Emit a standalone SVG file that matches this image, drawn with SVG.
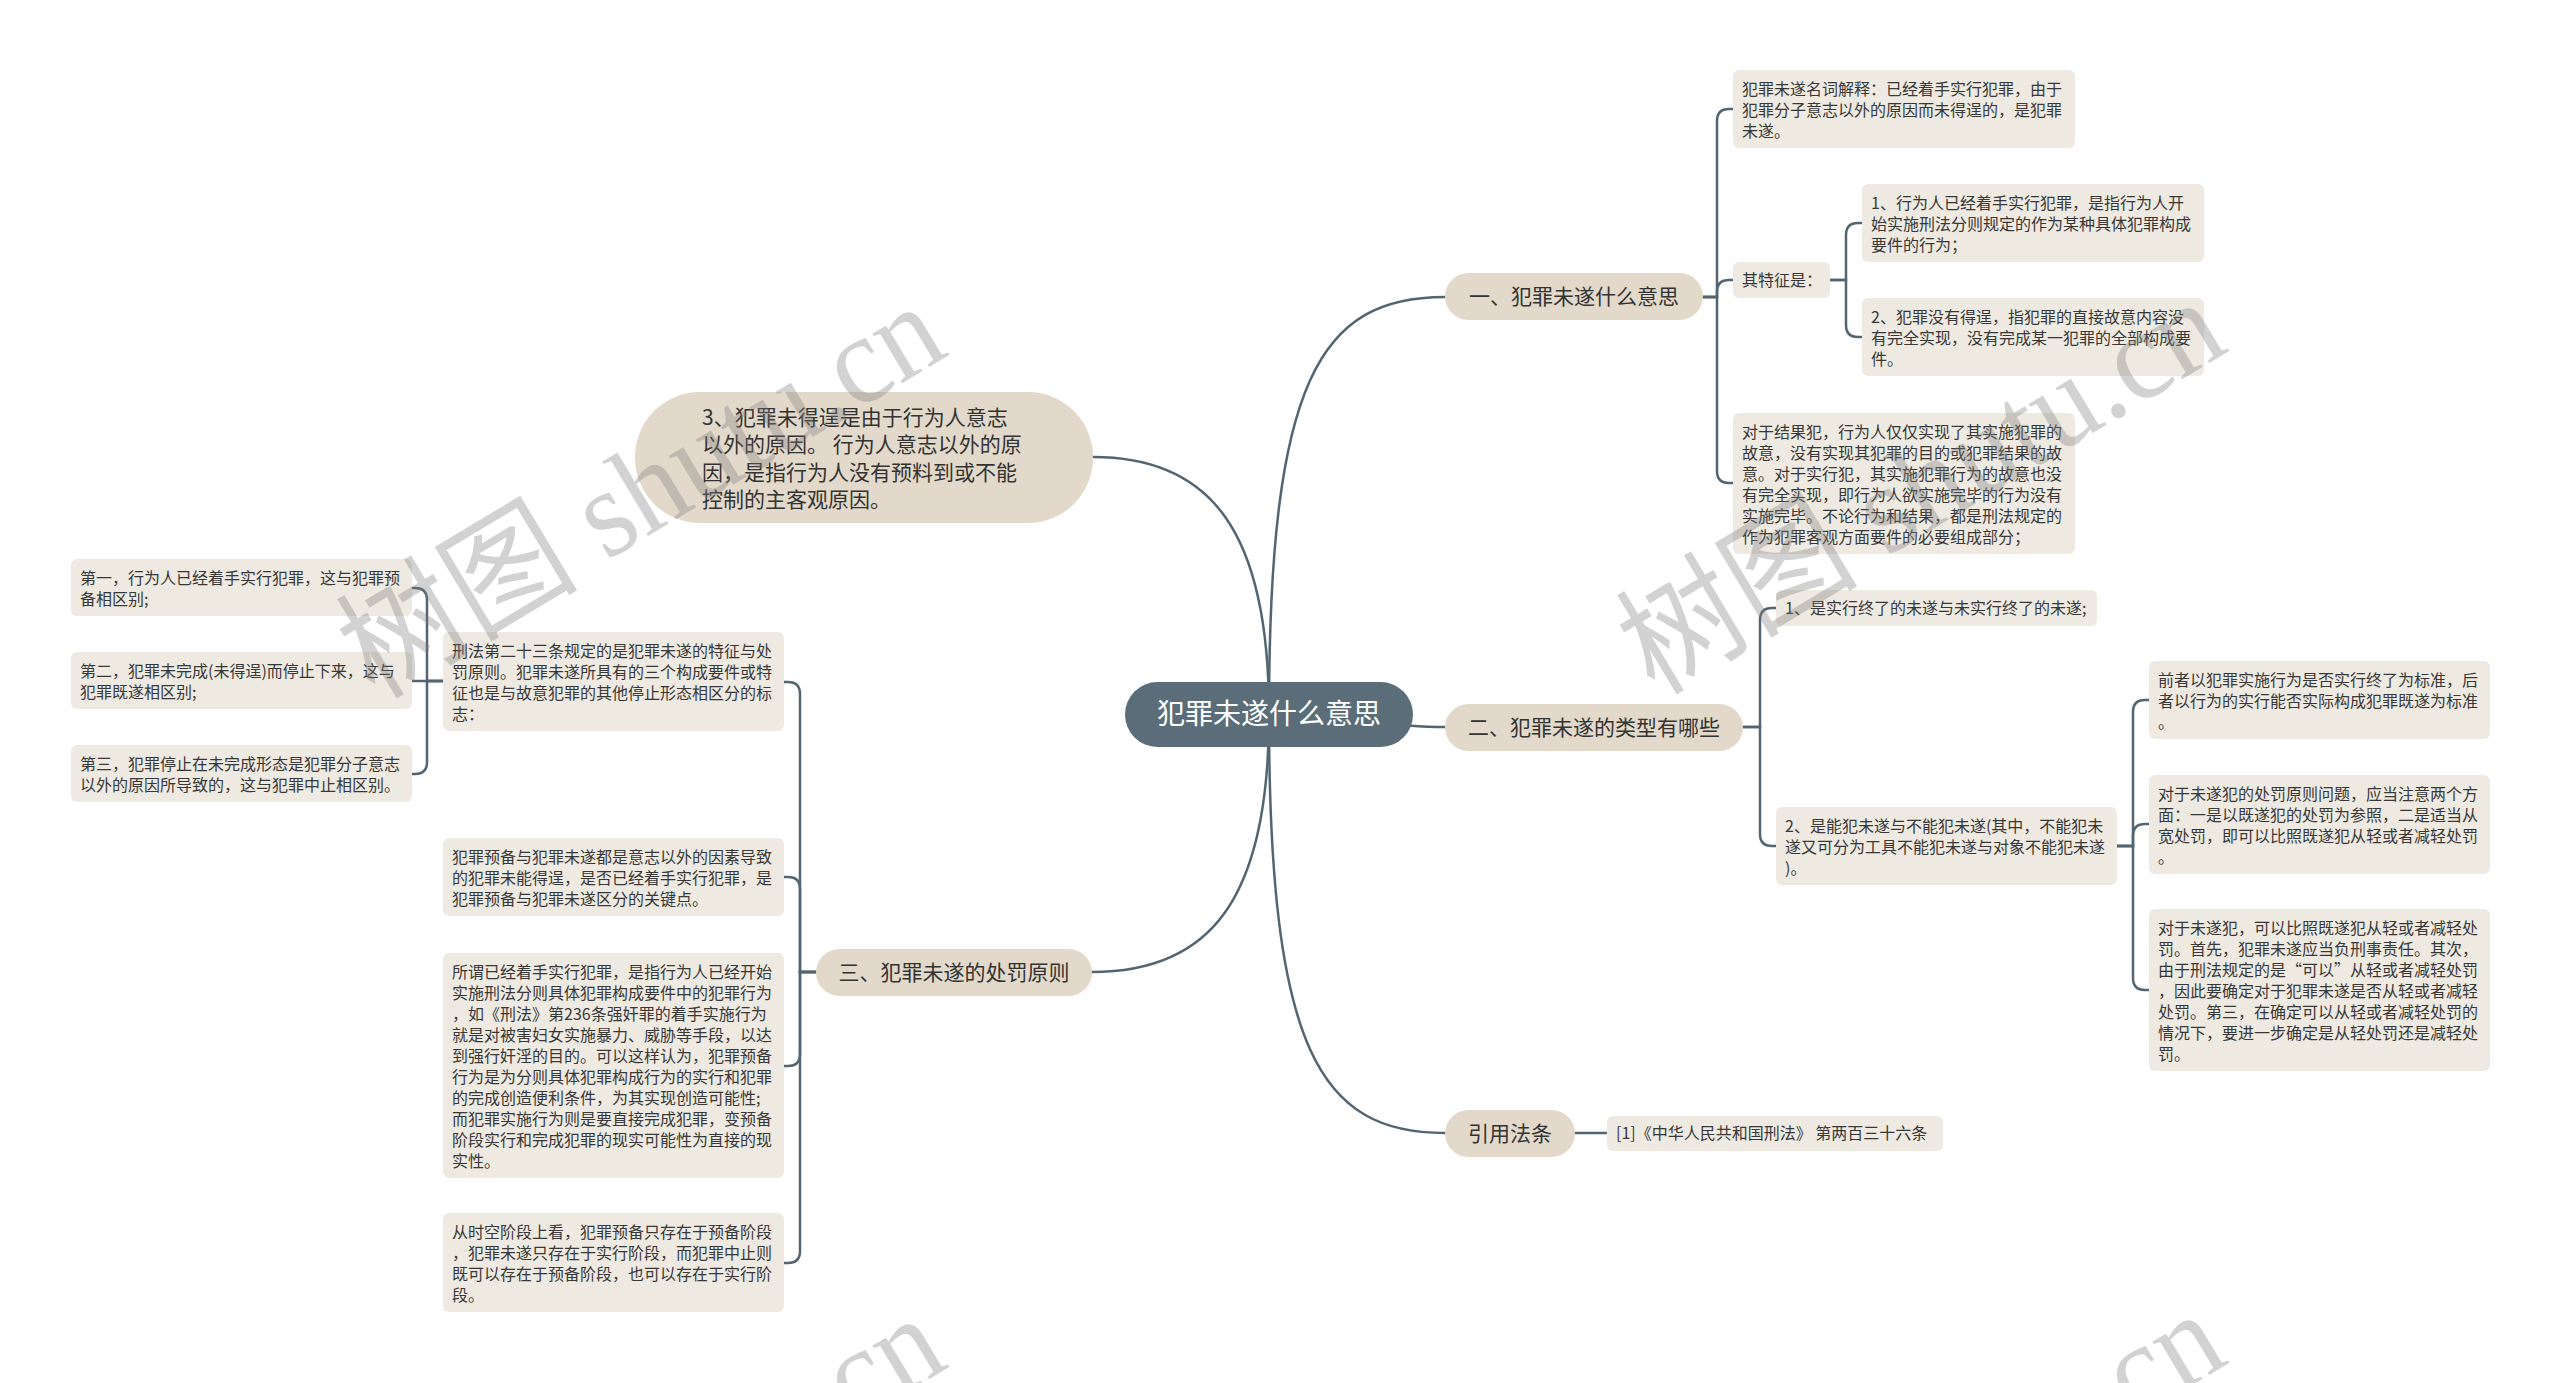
<svg xmlns="http://www.w3.org/2000/svg" width="2560" height="1383" viewBox="0 0 2560 1383">
<style>
.bg{fill:#ffffff}
.root{fill:#5a6d79}
.l1{fill:#e2d9ca}
.bx{fill:#eeeae2}
.rt{font-family:"Noto Sans CJK SC","Noto Sans",sans-serif;font-size:28px;fill:#ffffff;text-anchor:middle}
.t1{font-family:"Noto Sans CJK SC","Noto Sans",sans-serif;font-size:21px;fill:#333333;text-anchor:middle}
.t1l{font-family:"Noto Sans CJK SC","Noto Sans",sans-serif;font-size:21px;fill:#333333}
.t{font-family:"Noto Sans CJK SC","Noto Sans",sans-serif;font-size:16px;fill:#383838}
.c{fill:none;stroke:#536570;stroke-width:2.5;stroke-linecap:round}
.wm{font-family:"Liberation Serif","Noto Sans CJK SC",serif;font-size:126px;fill:#7a7a7a;opacity:0.33}
</style>
<rect class="bg" x="0" y="0" width="2560" height="1383"/>
<g id="connectors">
<path class="c" d="M1269,714 C1269,380 1320,297 1445,297"/>
<path class="c" d="M1269,714 C1340,714 1380,727 1445,727"/>
<path class="c" d="M1269,714 C1269,1050 1320,1133 1445,1133"/>
<path class="c" d="M1269,714 C1269,530 1210,457 1093,457"/>
<path class="c" d="M1269,714 C1269,900 1210,972 1092,972"/>
<path class="c" d="M1703,297 H1717 V121 Q1717,109 1729,109 H1733"/>
<path class="c" d="M1703,297 H1717 V292 Q1717,280 1729,280 H1733"/>
<path class="c" d="M1703,297 H1717 V471 Q1717,483 1729,483 H1733"/>
<path class="c" d="M1830,280 H1846 V235 Q1846,223 1858,223 H1862"/>
<path class="c" d="M1830,280 H1846 V325 Q1846,337 1858,337 H1862"/>
<path class="c" d="M1743,727 H1760 V620 Q1760,608 1772,608 H1776"/>
<path class="c" d="M1743,727 H1760 V834 Q1760,846 1772,846 H1776"/>
<path class="c" d="M2117,846 H2133 V712 Q2133,700 2145,700 H2149"/>
<path class="c" d="M2117,846 H2133 V836 Q2133,824 2145,824 H2149"/>
<path class="c" d="M2117,846 H2133 V978 Q2133,990 2145,990 H2149"/>
<path class="c" d="M1575,1133 H1607"/>
<path class="c" d="M816,972 H800 V694 Q800,682 788,682 H784"/>
<path class="c" d="M816,972 H800 V889 Q800,877 788,877 H784"/>
<path class="c" d="M816,972 H800 V1054 Q800,1066 788,1066 H784"/>
<path class="c" d="M816,972 H800 V1251 Q800,1263 788,1263 H784"/>
<path class="c" d="M443,681 H427 V600 Q427,588 415,588 H412"/>
<path class="c" d="M443,681 H412"/>
<path class="c" d="M443,681 H427 V762 Q427,774 415,774 H412"/>
</g>
<g id="root">
<rect class="root" x="1125" y="682" width="288" height="65" rx="32.5"/>
<text class="rt" x="1269" y="724">犯罪未遂什么意思</text>
</g>
<g id="b1">
<rect class="l1" x="1445" y="273" width="258" height="47" rx="23.5"/>
<text class="t1" x="1574" y="304">一、犯罪未遂什么意思</text>
</g>
<g id="b2">
<rect class="l1" x="1445" y="704" width="298" height="47" rx="23.5"/>
<text class="t1" x="1594" y="735">二、犯罪未遂的类型有哪些</text>
</g>
<g id="b4">
<rect class="l1" x="1445" y="1110" width="130" height="47" rx="23.5"/>
<text class="t1" x="1510" y="1141">引用法条</text>
</g>
<g id="b3">
<rect class="l1" x="816" y="949" width="276" height="47" rx="23.5"/>
<text class="t1" x="954" y="980">三、犯罪未遂的处罚原则</text>
</g>
<g id="n3">
<rect class="l1" x="635" y="392" width="458" height="131" rx="65"/>
<text class="t1l"><tspan x="702" y="425">3、犯罪未得逞是由于行为人意志</tspan><tspan x="702" y="452">以外的原因。 行为人意志以外的原</tspan><tspan x="702" y="480">因，是指行为人没有预料到或不能</tspan><tspan x="702" y="507">控制的主客观原因。</tspan></text>
</g>
<g id="s1">
<rect class="bx" x="1733" y="70" width="342" height="78" rx="6"/>
<text class="t"><tspan x="1742" y="95">犯罪未遂名词解释：已经着手实行犯罪，由于</tspan><tspan x="1742" y="116">犯罪分子意志以外的原因而未得逞的，是犯罪</tspan><tspan x="1742" y="137">未遂。</tspan></text>
</g>
<g id="s2">
<rect class="bx" x="1733" y="262" width="97" height="36" rx="6"/>
<text class="t" x="1742" y="286">其特征是：</text>
</g>
<g id="s3">
<rect class="bx" x="1862" y="184" width="342" height="78" rx="6"/>
<text class="t"><tspan x="1871" y="209">1、行为人已经着手实行犯罪，是指行为人开</tspan><tspan x="1871" y="230">始实施刑法分则规定的作为某种具体犯罪构成</tspan><tspan x="1871" y="251">要件的行为；</tspan></text>
</g>
<g id="s4">
<rect class="bx" x="1862" y="298" width="342" height="78" rx="6"/>
<text class="t"><tspan x="1871" y="323">2、犯罪没有得逞，指犯罪的直接故意内容没</tspan><tspan x="1871" y="344">有完全实现，没有完成某一犯罪的全部构成要</tspan><tspan x="1871" y="365">件。</tspan></text>
</g>
<g id="s5">
<rect class="bx" x="1733" y="413" width="342" height="141" rx="6"/>
<text class="t"><tspan x="1742" y="438">对于结果犯，行为人仅仅实现了其实施犯罪的</tspan><tspan x="1742" y="459">故意，没有实现其犯罪的目的或犯罪结果的故</tspan><tspan x="1742" y="480">意。对于实行犯，其实施犯罪行为的故意也没</tspan><tspan x="1742" y="501">有完全实现，即行为人欲实施完毕的行为没有</tspan><tspan x="1742" y="522">实施完毕。不论行为和结果，都是刑法规定的</tspan><tspan x="1742" y="543">作为犯罪客观方面要件的必要组成部分；</tspan></text>
</g>
<g id="s6">
<rect class="bx" x="1776" y="590" width="321" height="36" rx="6"/>
<text class="t" x="1785" y="614">1、是实行终了的未遂与未实行终了的未遂;</text>
</g>
<g id="s7">
<rect class="bx" x="1776" y="807" width="341" height="78" rx="6"/>
<text class="t"><tspan x="1785" y="832">2、是能犯未遂与不能犯未遂(其中，不能犯未</tspan><tspan x="1785" y="853">遂又可分为工具不能犯未遂与对象不能犯未遂</tspan><tspan x="1785" y="874">)。</tspan></text>
</g>
<g id="s8">
<rect class="bx" x="2149" y="661" width="341" height="78" rx="6"/>
<text class="t"><tspan x="2158" y="686">前者以犯罪实施行为是否实行终了为标准，后</tspan><tspan x="2158" y="707">者以行为的实行能否实际构成犯罪既遂为标准</tspan><tspan x="2158" y="728">。</tspan></text>
</g>
<g id="s9">
<rect class="bx" x="2149" y="775" width="341" height="99" rx="6"/>
<text class="t"><tspan x="2158" y="800">对于未遂犯的处罚原则问题，应当注意两个方</tspan><tspan x="2158" y="821">面：一是以既遂犯的处罚为参照，二是适当从</tspan><tspan x="2158" y="842">宽处罚，即可以比照既遂犯从轻或者减轻处罚</tspan><tspan x="2158" y="863">。</tspan></text>
</g>
<g id="s10">
<rect class="bx" x="2149" y="909" width="341" height="162" rx="6"/>
<text class="t"><tspan x="2158" y="934">对于未遂犯，可以比照既遂犯从轻或者减轻处</tspan><tspan x="2158" y="955">罚。首先，犯罪未遂应当负刑事责任。其次，</tspan><tspan x="2158" y="976">由于刑法规定的是“可以”从轻或者减轻处罚</tspan><tspan x="2158" y="997">，因此要确定对于犯罪未遂是否从轻或者减轻</tspan><tspan x="2158" y="1018">处罚。第三，在确定可以从轻或者减轻处罚的</tspan><tspan x="2158" y="1039">情况下，要进一步确定是从轻处罚还是减轻处</tspan><tspan x="2158" y="1060">罚。</tspan></text>
</g>
<g id="s11">
<rect class="bx" x="1607" y="1116" width="336" height="35" rx="6"/>
<text class="t" x="1616" y="1139">[1]《中华人民共和国刑法》 第两百三十六条</text>
</g>
<g id="s12">
<rect class="bx" x="443" y="632" width="341" height="99" rx="6"/>
<text class="t"><tspan x="452" y="657">刑法第二十三条规定的是犯罪未遂的特征与处</tspan><tspan x="452" y="678">罚原则。犯罪未遂所具有的三个构成要件或特</tspan><tspan x="452" y="699">征也是与故意犯罪的其他停止形态相区分的标</tspan><tspan x="452" y="720">志：</tspan></text>
</g>
<g id="s13">
<rect class="bx" x="443" y="838" width="341" height="78" rx="6"/>
<text class="t"><tspan x="452" y="863">犯罪预备与犯罪未遂都是意志以外的因素导致</tspan><tspan x="452" y="884">的犯罪未能得逞，是否已经着手实行犯罪，是</tspan><tspan x="452" y="905">犯罪预备与犯罪未遂区分的关键点。</tspan></text>
</g>
<g id="s14">
<rect class="bx" x="443" y="953" width="341" height="225" rx="6"/>
<text class="t"><tspan x="452" y="978">所谓已经着手实行犯罪，是指行为人已经开始</tspan><tspan x="452" y="999">实施刑法分则具体犯罪构成要件中的犯罪行为</tspan><tspan x="452" y="1020">，如《刑法》第236条强奸罪的着手实施行为</tspan><tspan x="452" y="1041">就是对被害妇女实施暴力、威胁等手段，以达</tspan><tspan x="452" y="1062">到强行奸淫的目的。可以这样认为，犯罪预备</tspan><tspan x="452" y="1083">行为是为分则具体犯罪构成行为的实行和犯罪</tspan><tspan x="452" y="1104">的完成创造便利条件，为其实现创造可能性;</tspan><tspan x="452" y="1125">而犯罪实施行为则是要直接完成犯罪，变预备</tspan><tspan x="452" y="1146">阶段实行和完成犯罪的现实可能性为直接的现</tspan><tspan x="452" y="1167">实性。</tspan></text>
</g>
<g id="s15">
<rect class="bx" x="443" y="1213" width="341" height="99" rx="6"/>
<text class="t"><tspan x="452" y="1238">从时空阶段上看，犯罪预备只存在于预备阶段</tspan><tspan x="452" y="1259">，犯罪未遂只存在于实行阶段，而犯罪中止则</tspan><tspan x="452" y="1280">既可以存在于预备阶段，也可以存在于实行阶</tspan><tspan x="452" y="1301">段。</tspan></text>
</g>
<g id="s16">
<rect class="bx" x="71" y="559" width="341" height="57" rx="6"/>
<text class="t"><tspan x="80" y="584">第一，行为人已经着手实行犯罪，这与犯罪预</tspan><tspan x="80" y="605">备相区别;</tspan></text>
</g>
<g id="s17">
<rect class="bx" x="71" y="652" width="341" height="57" rx="6"/>
<text class="t"><tspan x="80" y="677">第二，犯罪未完成(未得逞)而停止下来，这与</tspan><tspan x="80" y="698">犯罪既遂相区别;</tspan></text>
</g>
<g id="s18">
<rect class="bx" x="71" y="745" width="341" height="57" rx="6"/>
<text class="t"><tspan x="80" y="770">第三，犯罪停止在未完成形态是犯罪分子意志</tspan><tspan x="80" y="791">以外的原因所导致的，这与犯罪中止相区别。</tspan></text>
</g>
<g id="watermark">
<text class="wm" transform="translate(375,700) rotate(-31)" textLength="672" lengthAdjust="spacingAndGlyphs">树图 shutu.cn</text>
<text class="wm" transform="translate(1655,696) rotate(-31)" textLength="672" lengthAdjust="spacingAndGlyphs">树图 shutu.cn</text>
<text class="wm" transform="translate(375,1712) rotate(-31)" textLength="672" lengthAdjust="spacingAndGlyphs">树图 shutu.cn</text>
<text class="wm" transform="translate(1655,1708) rotate(-31)" textLength="672" lengthAdjust="spacingAndGlyphs">树图 shutu.cn</text>
</g>
</svg>
